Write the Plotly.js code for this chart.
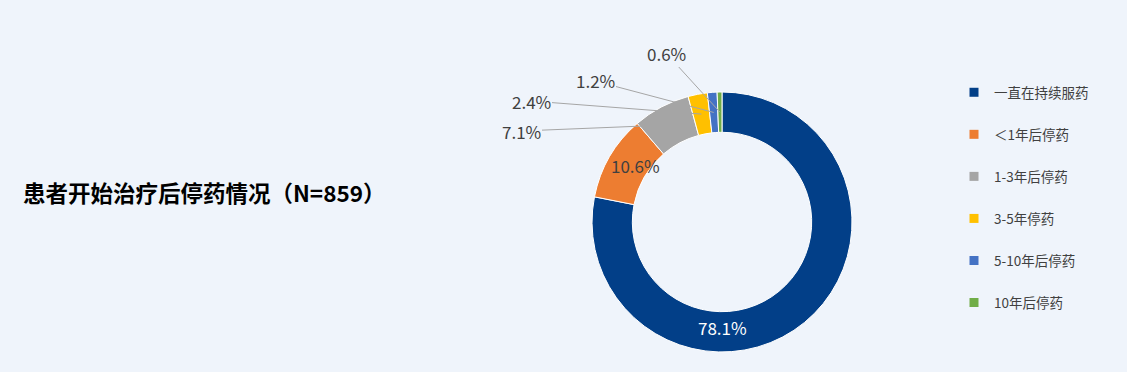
<!DOCTYPE html>
<html>
<head>
<meta charset="utf-8">
<script src="https://cdn.plot.ly/plotly-3.0.1.min.js"></script>
<style>
  html, body { margin: 0; padding: 0; background: #eff4fb; }
  #chart { width: 1127px; height: 372px; }
</style>
</head>
<body>
<div id="chart"></div>
<script>
// ---- data ----
const categories = ['一直在持续服药', '＜1年后停药', '1-3年后停药', '3-5年停药', '5-10年后停药', '10年后停药'];
const values = [78.1, 10.6, 7.1, 2.4, 1.2, 0.6];
const colors = ['#023f88', '#ed7d31', '#a5a5a5', '#ffc000', '#4472c4', '#70ad47'];
const titleText = '患者开始治疗后停药情况（N=859）';

// ---- layout constants ----
const W = 1127, H = 372;
const domX = [0.5253, 0.7560];
const domY = [0.0538, 0.7527];
const hole = 0.69;
const FONT = '"Noto Sans CJK SC", "Noto Sans", sans-serif';

const cxPx = (domX[0] + domX[1]) / 2 * W;
const cyPx = (1 - (domY[0] + domY[1]) / 2) * H;
const R = (domY[1] - domY[0]) * H / 2;

function pt(angleDeg, r) {
  const a = angleDeg * Math.PI / 180;
  const px = cxPx + r * Math.sin(a);
  const py = cyPx - r * Math.cos(a);
  return { x: px / W, y: 1 - py / H, px: px, py: py };
}

const total = values.reduce((a, b) => a + b, 0);
let cum = 0;
const mids = values.map(v => { const m = (cum + v / 2) / total * 360; cum += v; return m; });

const annotations = [];
// title
annotations.push({
  text: '<b>' + titleText + '</b>', xref: 'paper', yref: 'paper',
  x: 21 / W, y: 1 - 192 / H, xanchor: 'left', yanchor: 'middle', showarrow: false,
  font: { family: FONT, size: 22.5, color: '#000000' }
});
// inside labels
const ringMid = R * (1 + hole) / 2;
{
  const p = pt(180, ringMid - 4);
  annotations.push({ text: values[0].toFixed(1) + '%', x: p.x, y: p.y, xref: 'paper', yref: 'paper',
    xanchor: 'center', yanchor: 'middle',
    showarrow: false, font: { family: FONT, size: 17, color: '#ffffff' } });
  const q = pt(mids[1] + 3, ringMid - 6);
  annotations.push({ text: values[1].toFixed(1) + '%', x: q.x, y: q.y, xref: 'paper', yref: 'paper',
    xanchor: 'center', yanchor: 'middle',
    showarrow: false, font: { family: FONT, size: 17, color: '#404040' } });
}
// outside labels with leader lines (text centre positions)
const outsideText = [null, null, [521, 131], [531, 101], [595, 81], [666, 53]];
for (let i = 2; i < values.length; i++) {
  const head = pt(mids[i], R * (hole + 1) / 2);
  annotations.push({
    text: values[i].toFixed(1) + '%', xref: 'paper', yref: 'paper', x: head.x, y: head.y,
    showarrow: true, arrowhead: 0, arrowwidth: 1, arrowcolor: '#a6a6a6', standoff: 0,
    ax: outsideText[i][0] - head.px, ay: outsideText[i][1] - head.py,
    font: { family: FONT, size: 17, color: '#404040' }
  });
}

const traces = [{
  type: 'pie', values: values, labels: categories, sort: false, direction: 'clockwise',
  rotation: 0, hole: hole, domain: { x: domX, y: domY },
  marker: { colors: colors, line: { color: '#ffffff', width: 1 } },
  textinfo: 'none', showlegend: false, hoverinfo: 'label+percent'
}];
// legend entries
categories.forEach((c, i) => {
  traces.push({
    type: 'scatter', mode: 'markers', x: [null], y: [null], name: c, legendgroup: 'g' + i,
    marker: { symbol: 'square', size: 9, color: colors[i] }, showlegend: true, hoverinfo: 'skip'
  });
});

const layout = {
  width: W, height: H,
  margin: { l: 0, r: 0, t: 0, b: 0 },
  paper_bgcolor: '#eff4fb', plot_bgcolor: '#eff4fb',
  xaxis: { visible: false }, yaxis: { visible: false },
  showlegend: true,
  legend: {
    x: 954 / W, y: 1 - 77 / H, xanchor: 'left', yanchor: 'top',
    tracegroupgap: 21.5, bgcolor: 'rgba(0,0,0,0)',
    font: { family: FONT, size: 13.5, color: '#404040' }
  },
  annotations: annotations
};

Plotly.newPlot('chart', traces, layout, { displayModeBar: false, staticPlot: true });
</script>
</body>
</html>
